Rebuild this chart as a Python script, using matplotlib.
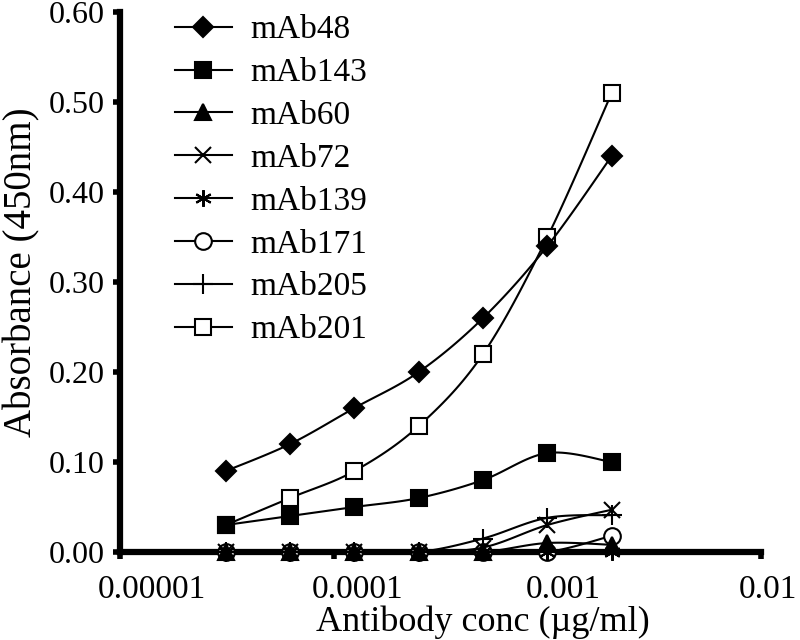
import numpy as np
import matplotlib
matplotlib.use("Agg")
import matplotlib.pyplot as plt
from matplotlib.lines import Line2D
from matplotlib.transforms import ScaledTranslation

plt.rcParams['font.family'] = ['Liberation Serif', 'DejaVu Serif']

conc = [3.125e-5, 6.25e-5, 1.25e-4, 2.5e-4, 5e-4, 1e-3, 2e-3]
mAb48 = [0.09, 0.12, 0.16, 0.20, 0.26, 0.34, 0.44]
mAb143 = [0.03, 0.04, 0.05, 0.06, 0.08, 0.11, 0.10]
mAb60 = [0.0, 0.0, 0.0, 0.0, 0.0, 0.010, 0.008]
mAb72 = [0.0, 0.0, 0.0, 0.0, 0.005, 0.030, 0.047]
mAb139 = [0.0, 0.0, 0.0, 0.0, 0.0, 0.0, 0.0]
mAb171 = [0.0, 0.0, 0.0, 0.0, 0.0, 0.0, 0.018]
mAb205 = [0.0, 0.0, 0.0, 0.0, 0.015, 0.038, 0.041]
mAb201 = [0.03, 0.06, 0.09, 0.14, 0.22, 0.35, 0.51]

names = ["mAb48", "mAb143", "mAb60", "mAb72", "mAb139", "mAb171", "mAb205", "mAb201"]
series = [mAb48, mAb143, mAb60, mAb72, mAb139, mAb171, mAb205, mAb201]
markers = ["D", "s", "^", "x", (6, 2, 0), "o", "+", "s"]
sizes = [10, 11, 11, 12, 12, 12, 15, 11]
faces = ["black", "black", "black", "none", "none", "white", "none", "white"]

xticks = [1e-5, 1e-4, 1e-3, 1e-2]
xticklabels = ["0.00001", "0.0001", "0.001", "0.01"]
yticks = [0.0, 0.1, 0.2, 0.3, 0.4, 0.5, 0.6]


def smooth(x, y, n=20, t=0.5):
    lx = np.log10(np.asarray(x, float))
    y = np.asarray(y, float)
    P = np.column_stack([lx, y])
    P = np.vstack([P[0], P, P[-1]])
    out = []
    for i in range(1, len(P) - 2):
        p0, p1, p2, p3 = P[i - 1], P[i], P[i + 1], P[i + 2]
        m1 = t * (p2 - p0)
        m2 = t * (p3 - p1)
        s = np.linspace(0, 1, n)[:, None]
        h00 = 2 * s**3 - 3 * s**2 + 1
        h10 = s**3 - 2 * s**2 + s
        h01 = -2 * s**3 + 3 * s**2
        h11 = s**3 - s**2
        out.append(h00 * p1 + h10 * m1 + h01 * p2 + h11 * m2)
    out = np.vstack(out)
    return 10 ** out[:, 0], out[:, 1]


fig = plt.figure(figsize=(8, 6.4), dpi=100)
ax = fig.add_axes([0.15, 0.1375, 0.8013, 0.8435])

order = [7, 5, 0, 1, 2, 3, 4, 6]
handles = [None] * 8
for z, i in enumerate(order):
    sx, sy = smooth(conc, series[i])
    ax.plot(sx, sy, color="black", lw=1.5, clip_on=False, zorder=2 + z)
    ax.plot(conc, series[i], linestyle="none", marker=markers[i], ms=sizes[i],
            mfc=faces[i], mec="black", mew=1.5, clip_on=False, zorder=3 + z)
    handles[i] = Line2D([], [], color="black", lw=1.5, marker=markers[i], ms=sizes[i],
                        mfc=faces[i], mec="black", mew=1.5)

ax.set_xscale("log")
ax.set_xlim(1e-5, 1e-2)
ax.set_ylim(0, 0.6)
ax.set_xticks(xticks)
ax.set_xticklabels(xticklabels)
ax.xaxis.set_minor_locator(matplotlib.ticker.NullLocator())
ax.set_yticks(yticks)
ax.set_yticklabels([f"{v:.2f}" for v in yticks])

for s in ["top", "right"]:
    ax.spines[s].set_visible(False)
for s in ["left", "bottom"]:
    ax.spines[s].set_linewidth(4.5)
ax.tick_params(axis="both", which="major", direction="out", length=5, width=4)
ax.tick_params(axis="y", labelsize=23, pad=6)
ax.tick_params(axis="x", labelsize=24, pad=11)

offset = ScaledTranslation(-0.22, 0, fig.dpi_scale_trans)
for lab in ax.get_xticklabels():
    lab.set_ha("left")
    lab.set_transform(lab.get_transform() + offset)

ax.set_xlabel("Antibody conc (\u00b5g/ml)", fontsize=26)
ax.xaxis.set_label_coords(0.566, -0.1)
ax.set_ylabel("Absorbance (450nm)", fontsize=28)
ax.yaxis.set_label_coords(-0.124, 0.518)

leg = ax.legend(handles, names, loc="upper left", bbox_to_anchor=(0.086, 0.995),
                frameon=False, fontsize=24, handlelength=1.7, handletextpad=0.55,
                labelspacing=0.37, borderaxespad=0, borderpad=0)

fig.savefig("out.png", dpi=100)
